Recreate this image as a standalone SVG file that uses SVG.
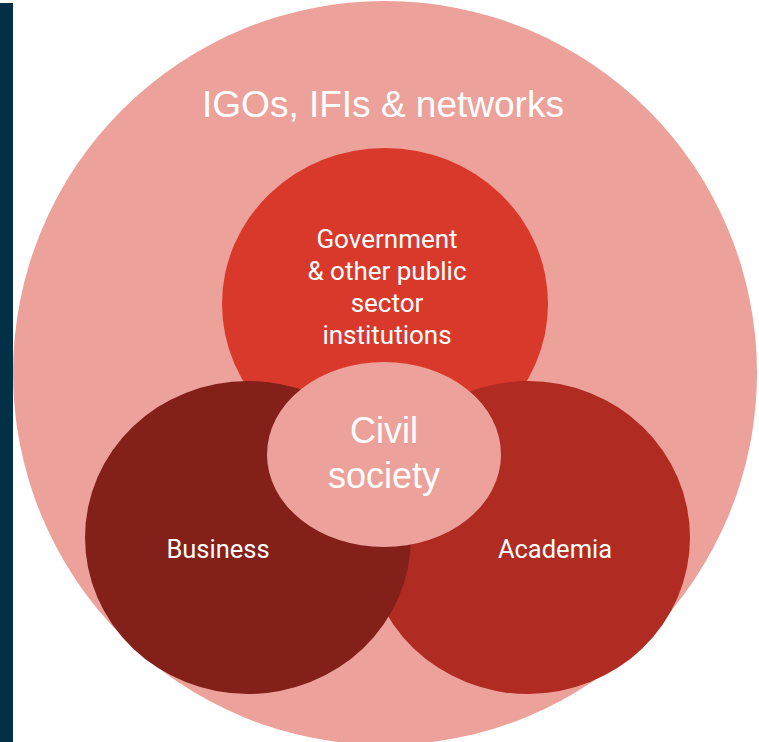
<svg xmlns="http://www.w3.org/2000/svg" width="759" height="742" viewBox="0 0 759 742">
<style>
.lbl{fill:#ffffff;text-anchor:middle}
.arial{font-family:"Liberation Sans",Arial,sans-serif}
.rob{font-family:Roboto,"Liberation Sans",sans-serif}
</style>
<rect x="0" y="0" width="759" height="742" fill="#ffffff"/>
<rect id="sidebar" x="0" y="3" width="13" height="739" fill="#023047"/>
<g id="igos">
<circle cx="385" cy="373" r="372" fill="#eca19b"/>
<text class="lbl arial" x="383" y="117" font-size="37">IGOs, IFIs &amp; networks</text>
</g>
<g id="government">
<ellipse cx="385" cy="304" rx="163" ry="156" fill="#d9392b"/>
<text class="lbl rob" font-size="26"><tspan x="387" y="248">Government</tspan><tspan x="387" y="280">&amp; other public</tspan><tspan x="387" y="312">sector</tspan><tspan x="387" y="344">institutions</tspan></text>
</g>
<g id="academia">
<ellipse cx="528" cy="537.5" rx="162" ry="156.5" fill="#b02b21"/>
<text class="lbl rob" x="555" y="558" font-size="25.5">Academia</text>
</g>
<g id="business">
<ellipse cx="248" cy="537.5" rx="163" ry="156.5" fill="#822019"/>
<text class="lbl rob" x="218" y="558" font-size="25.5">Business</text>
</g>
<g id="civil">
<ellipse cx="384" cy="454.5" rx="117" ry="92.5" fill="#eca19b"/>
<text class="lbl arial" font-size="36"><tspan x="384" y="443">Civil</tspan><tspan x="384" y="488">society</tspan></text>
</g>
<g id="connectors"/>
</svg>
